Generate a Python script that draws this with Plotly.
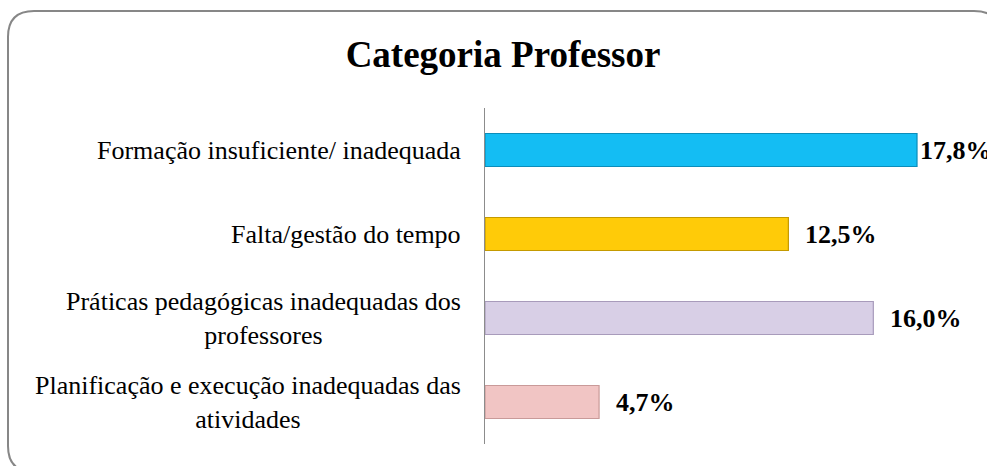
import plotly.graph_objects as go

categories = [
    "Formação insuficiente/ inadequada",
    "Falta/gestão do tempo",
    "Práticas pedagógicas inadequadas dos<br>professores",
    "Planificação e execução inadequadas das<br>atividades",
]
values = [17.8, 12.5, 16.0, 4.7]
value_labels = ["17,8%", "12,5%", "16,0%", "4,7%"]
bar_colors = ["#14BDF3", "#FFCB08", "#D8CFE6", "#F1C5C4"]
edge_colors = ["#0B8DBA", "#C49A00", "#A89BBB", "#C99A99"]

W, H = 987, 466
L, R, T, B = 485, 20, 108, 22
pw, ph = W - L - R, H - T - B
px_per_unit = 24.27
xmax = pw / px_per_unit

SERIF = "Liberation Serif"

fig = go.Figure()
fig.add_trace(go.Bar(
    y=categories, x=values, orientation="h",
    marker=dict(color=bar_colors, line=dict(color=edge_colors, width=1.2)),
    hoverinfo="skip", showlegend=False,
))

annotations = []
vmax = max(values)
for cat, v, lab in zip(categories, values, value_labels):
    annotations.append(dict(
        x=v, y=cat, xref="x", yref="y", text=f"<b>{lab}</b>",
        showarrow=False, xanchor="left", yanchor="middle",
        xshift=1 if v == vmax else 15,
        font=dict(family=SERIF, size=26, color="#000000"),
    ))
    annotations.append(dict(
        x=0, y=cat, xref="paper", yref="y", text=cat,
        showarrow=False, xanchor="right", yanchor="middle", align="center",
        xshift=-22,
        font=dict(family=SERIF, size=26, color="#000000"),
    ))


def px2x(p):
    return (p - L) / pw


def py2y(p):
    return (H - B - p) / ph


x0, x1, y0, y1, r = 8, 1000, 11, 472, 26
path = (
    f"M {px2x(x0 + r)},{py2y(y0)} "
    f"L {px2x(x1 - r)},{py2y(y0)} "
    f"Q {px2x(x1)},{py2y(y0)} {px2x(x1)},{py2y(y0 + r)} "
    f"L {px2x(x1)},{py2y(y1 - r)} "
    f"Q {px2x(x1)},{py2y(y1)} {px2x(x1 - r)},{py2y(y1)} "
    f"L {px2x(x0 + r)},{py2y(y1)} "
    f"Q {px2x(x0)},{py2y(y1)} {px2x(x0)},{py2y(y1 - r)} "
    f"L {px2x(x0)},{py2y(y0 + r)} "
    f"Q {px2x(x0)},{py2y(y0)} {px2x(x0 + r)},{py2y(y0)} Z"
)

fig.update_layout(
    width=W, height=H,
    margin=dict(l=L, r=R, t=T, b=B),
    paper_bgcolor="white", plot_bgcolor="white",
    bargap=0.607,
    title=dict(
        text="<b>Categoria Professor</b>",
        x=503 / W, xanchor="center", xref="container",
        y=1 - 54 / H, yanchor="middle", yref="container",
        font=dict(family=SERIF, size=37, color="#000000"),
    ),
    xaxis=dict(range=[0, xmax], visible=False, fixedrange=True),
    yaxis=dict(
        categoryorder="array", categoryarray=categories, autorange="reversed",
        showticklabels=False, ticks="", showgrid=False, zeroline=False,
        showline=True, linecolor="#8C8C8C", linewidth=1.3,
    ),
    annotations=annotations,
    shapes=[dict(type="path", xref="paper", yref="paper", path=path,
                 line=dict(color="#878787", width=2), layer="above")],
)

fig.write_html(
    "out.html",
    config={"displayModeBar": False},
    post_script="document.body.style.margin='0';document.body.style.overflow='hidden';",
)
